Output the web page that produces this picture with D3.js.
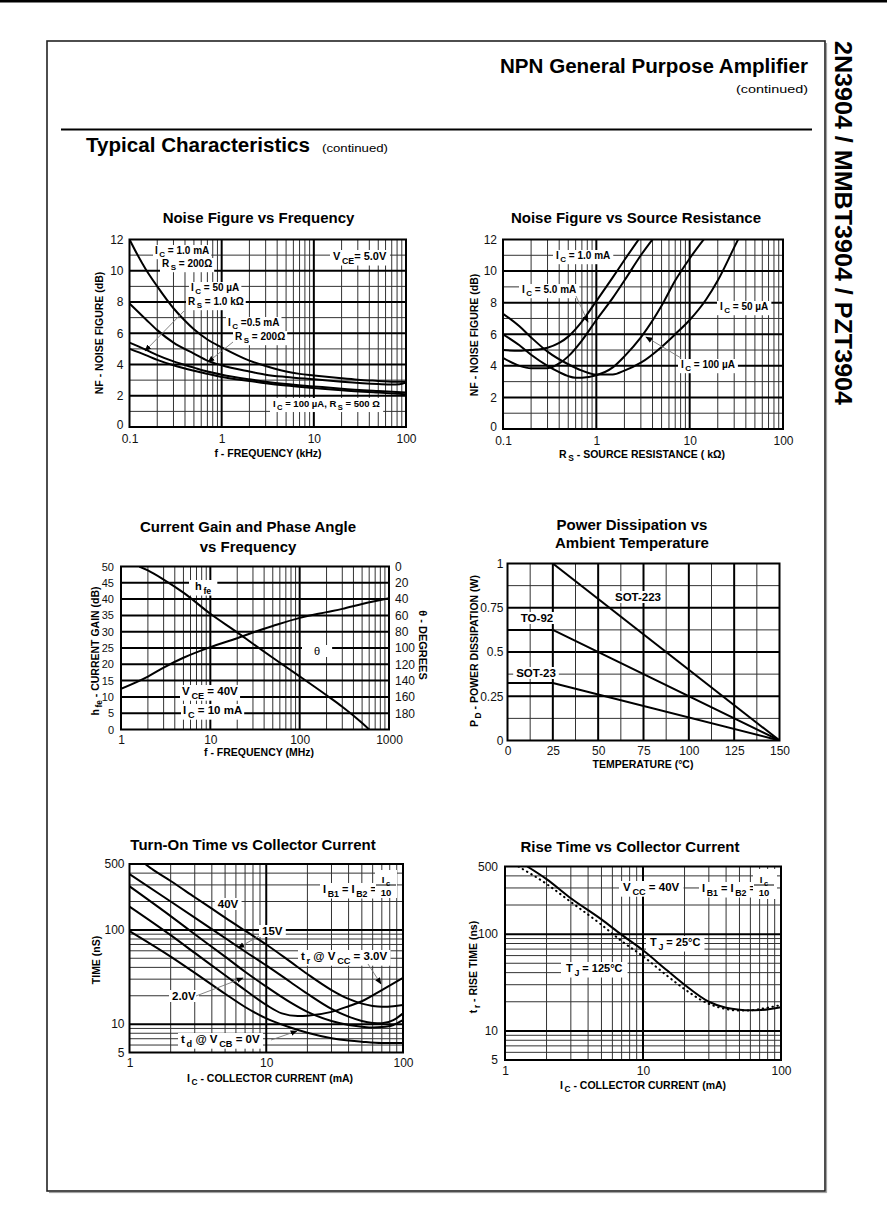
<!DOCTYPE html>
<html><head><meta charset="utf-8">
<script src="https://cdn.jsdelivr.net/npm/d3@7/dist/d3.min.js"></script>
<style>
html,body{margin:0;padding:0;background:#fff}
svg{display:block}
text{font-family:"Liberation Sans",Arial,Helvetica,sans-serif;fill:#000}
</style></head><body><script>
// ================= DATA =================
// Chart 1: Noise Figure vs Frequency (f kHz, NF dB)
const nfFreq_IC1mA_RS200 = [[0.1,12],[0.12,11.1],[0.15,10.1],[0.2,9.0],[0.3,7.6],[0.4,6.8],[0.5,6.25],[0.7,5.6],[1,5.1],[2,4.25],[3,3.9],[5,3.55],[7,3.4],[10,3.3],[20,3.12],[30,3.03],[50,2.95],[70,2.9],[100,2.9]];
const nfFreq_IC05mA_RS200 = [[0.1,7.9],[0.15,6.9],[0.2,6.2],[0.3,5.4],[0.5,4.7],[0.7,4.25],[1,3.95],[2,3.55],[3,3.35],[5,3.2],[10,3.05],[20,2.9],[50,2.75],[70,2.72],[85,2.74],[100,2.85]];
const nfFreq_IC50uA_RS1k = [[0.1,5.4],[0.15,4.95],[0.2,4.6],[0.3,4.2],[0.5,3.8],[0.7,3.55],[1,3.35],[2,3.05],[3,2.9],[5,2.75],[10,2.6],[20,2.45],[50,2.3],[100,2.2]];
const nfFreq_IC100uA_RS500 = [[0.1,5.0],[0.15,4.6],[0.2,4.3],[0.3,3.95],[0.5,3.6],[0.7,3.4],[1,3.2],[2,2.95],[3,2.8],[5,2.65],[10,2.5],[20,2.35],[50,2.2],[100,2.1]];
const nfFreqTicksX = [0.1,1,10,100];
const nfTicksY = [0,2,4,6,8,10,12];

// Chart 2: Noise Figure vs Source Resistance (Rs kOhm, NF dB)
const nfRs_IC1mA = [[0.1,5.0],[0.15,4.95],[0.2,5.0],[0.3,5.15],[0.4,5.45],[0.5,5.85],[0.7,6.8],[1,8.1],[1.5,9.6],[2,10.7],[3,12.2]];
const nfRs_IC5mA = [[0.1,4.5],[0.15,4.0],[0.2,3.85],[0.3,3.85],[0.4,4.15],[0.5,4.6],[0.7,5.6],[1,6.9],[1.5,8.3],[2,9.4],[3,11],[4.5,12.4]];
const nfRs_IC50uA = [[0.1,7.3],[0.15,6.5],[0.2,5.8],[0.3,4.9],[0.5,4.1],[0.7,3.7],[1,3.45],[1.5,3.45],[2,3.7],[3,4.2],[5,5.2],[7,6.0],[10,6.9],[15,8.2],[20,9.4],[30,11.5],[35,12.3]];
const nfRs_IC100uA = [[0.1,6.0],[0.15,5.3],[0.2,4.7],[0.3,4.0],[0.4,3.6],[0.5,3.35],[0.6,3.25],[0.7,3.25],[1,3.4],[1.5,3.9],[2,4.6],[3,5.8],[5,7.8],[7,9.4],[10,10.8],[15,12.2]];
const nfRsTicksX = [0.1,1,10,100];

// Chart 3: Current Gain and Phase Angle vs Frequency (f MHz)
const cgFreq_hfe_dB = [[1.6,50],[2,48.8],[3,46],[5,42],[10,35.5],[20,29.8],[30,26.3],[50,22],[100,16.3],[200,10.5],[300,7],[500,2],[600,0]];
const cgFreq_theta_deg = [[1,150],[2,135],[3,124],[5,112],[10,99],[20,88],[30,81],[50,73],[100,63],[200,56],[300,52],[500,46],[1000,39]];
const cgTicksX = [1,10,100,1000];
const cgTicksY = [0,5,10,15,20,25,30,35,40,45,50];
const cgTicksTheta = [0,20,40,60,80,100,120,140,160,180];

// Chart 4: Power Dissipation vs Ambient Temperature (degC, W)
const pd_SOT223 = [[25,1.0],[150,0]];
const pd_TO92 = [[0,0.625],[25,0.625],[150,0]];
const pd_SOT23 = [[0,0.325],[25,0.325],[150,0]];
const pdTicksX = [0,25,50,75,100,125,150];
const pdTicksY = [0,0.25,0.5,0.75,1];

// Chart 5: Turn-On Time vs Collector Current (mA, ns)
const ton_tr_40V = [[1.3,500],[1.5,430],[2,330],[3,222],[4,168],[5,135],[7,98],[10,70],[15,46],[20,34],[30,23],[40,18.5],[50,16.5],[60,15.6],[70,15.3],[85,15.5],[100,16]];
const ton_tr_15V = [[1,390],[2,200],[3,135],[5,82],[7,59],[10,42],[15,28],[20,21],[30,14.5],[40,12],[50,10.8],[60,10.3],[70,10.2],[85,11],[100,13]];
const ton_td_2V = [[1,290],[2,140],[3,90],[5,52],[7,36],[10,25],[15,17],[20,13.5],[30,10.8],[40,9.8],[50,9.4],[60,9.2],[70,9.3],[85,9.8],[100,11]];
const ton_tr_3V = [[1,177],[2,88],[3,57],[5,33],[7,23],[10,16],[13,13],[17,12.2],[20,12.3],[30,13.5],[40,15.5],[50,17.5],[70,23],[100,31]];
const ton_td_0V = [[1,97],[2,52],[3,35],[5,21],[7,15.2],[10,11.5],[15,9.2],[20,8.1],[30,7.1],[40,6.7],[50,6.5],[70,6.3],[100,6.3]];
const icTicksX = [1,10,100];
const timeTicksY = [5,10,100,500];

// Chart 6: Rise Time vs Collector Current (mA, ns)
const rise_TJ25 = [[1.45,500],[2,370],[3,235],[5,142],[6.9,100],[10,68],[15,42],[20,30],[30,20],[40,17.3],[50,16.5],[60,16.3],[70,16.4],[100,17.6]];
const rise_TJ125 = [[1.25,500],[2,330],[3,215],[5,125],[6.9,86],[10,59],[15,37],[20,27],[30,19],[40,16.8],[50,16.2],[60,16.3],[70,16.8],[100,18.5]];

// ================= HELPERS =================
const svg = d3.select("body").append("svg").attr("width",887).attr("height",1209);
const defs = svg.append("defs");
defs.append("marker").attr("id","ah").attr("viewBox","0 0 10 10").attr("refX",9).attr("refY",5)
  .attr("markerWidth",7).attr("markerHeight",7).attr("markerUnits","userSpaceOnUse").attr("orient","auto")
  .append("path").attr("d","M0,1L10,5L0,9Z").attr("fill","#000");

function rich(parent, x, y, str, o={}){
  const size=o.size||10;
  const t=parent.append("text").attr("x",x).attr("y",y).attr("font-size",size)
    .attr("font-weight",o.weight||"bold").attr("text-anchor",o.anchor||"start");
  const re=/_\{([^}]*)\}/g; let last=0,m; const parts=[];
  while((m=re.exec(str))){ if(m.index>last) parts.push([str.slice(last,m.index),0]); parts.push([m[1],1]); last=re.lastIndex; }
  if(last<str.length) parts.push([str.slice(last),0]);
  const sh=size*0.32; let down=false;
  for(const [s,sub] of parts){
    const ts=t.append("tspan").text(s);
    if(sub){ ts.attr("font-size",size*0.8).attr("dy",down?0:sh).attr("dx",size*0.15); down=true; }
    else if(down){ ts.attr("dy",-sh); down=false; }
  }
  if(o.len) t.attr("textLength",o.len).attr("lengthAdjust","spacingAndGlyphs");
  if(o.bg){ const b=t.node().getBBox(); const p=o.pad==null?2:o.pad;
    parent.insert("rect",()=>t.node()).attr("x",b.x-p).attr("y",b.y).attr("width",b.width+2*p).attr("height",b.height).attr("fill","#fff"); }
  return t;
}
function arrow(parent,x1,y1,x2,y2){
  parent.append("line").attr("x1",x1).attr("y1",y1).attr("x2",x2).attr("y2",y2)
    .attr("stroke","#777").attr("stroke-width",0.9).attr("marker-end","url(#ah)");
}
function logVals(a,b,mults){
  const out=[];
  for(let e=Math.floor(Math.log10(a))-1;e<=Math.ceil(Math.log10(b));e++)
    for(const mm of mults){ const v=+(mm*Math.pow(10,e)).toPrecision(6); if(v>a*1.0001&&v<b*0.9999) out.push(v); }
  return out;
}
function frac(parent,cx,yb,num,den,size){
  rich(parent,cx,yb-5,num,{size,anchor:"middle"});
  parent.append("line").attr("x1",cx-10).attr("x2",cx+10).attr("y1",yb-3).attr("y2",yb-3).attr("stroke","#000").attr("stroke-width",1);
  rich(parent,cx,yb+8,den,{size,anchor:"middle"});
}
let clipN=0;
function makeChart(c){
  const g=svg.append("g");
  const x=c.x, y=c.y;
  const [xl,xr]=x.range(); const [yb,yt]=y.range();
  const id="clip"+(++clipN);
  defs.append("clipPath").attr("id",id).append("rect").attr("x",xl).attr("y",yt).attr("width",xr-xl).attr("height",yb-yt);
  const grid=g.append("g");
  const vline=(vals,w,col)=>grid.append("g").selectAll("line").data(vals).join("line")
    .attr("x1",d=>x(d)).attr("x2",d=>x(d)).attr("y1",yt).attr("y2",yb).attr("stroke",col).attr("stroke-width",w);
  const hline=(vals,w,col)=>grid.append("g").selectAll("line").data(vals).join("line")
    .attr("y1",d=>y(d)).attr("y2",d=>y(d)).attr("x1",xl).attr("x2",xr).attr("stroke",col).attr("stroke-width",w);
  vline(c.vThin||[],1,"#333"); hline(c.hThin||[],1,"#333");
  vline(c.vThick||[],2,"#000"); hline(c.hThick||[],2,"#000");
  const ann=g.append("g");
  const curves=g.append("g").attr("clip-path",`url(#${id})`);
  g.append("rect").attr("x",xl).attr("y",yt).attr("width",xr-xl).attr("height",yb-yt)
    .attr("fill","none").attr("stroke","#000").attr("stroke-width",2);
  const top=g.append("g");
  return {g,x,y,xl,xr,yt,yb,ann,curves,top};
}
function drawCurve(ch,data,yScale,dash,linear){
  const ys=yScale||ch.y;
  const p=ch.curves.append("path").datum(data)
    .attr("d",d3.line().x(d=>ch.x(d[0])).y(d=>ys(d[1])).curve(linear?d3.curveLinear:d3.curveMonotoneX))
    .attr("fill","none").attr("stroke","#000").attr("stroke-width",2).attr("stroke-linejoin","round");
  if(dash) p.attr("stroke-dasharray",dash).attr("stroke-linecap","round");
  return p;
}
function axisL(ch,vals,fmt,o={}){
  const ag=ch.g.append("g").attr("transform",`translate(${ch.xl},0)`)
    .call(d3.axisLeft(o.scale||ch.y).tickValues(vals).tickFormat(fmt).tickSize(0).tickPadding(o.pad||5));
  ag.select(".domain").remove(); ag.attr("font-size",o.size||12).attr("font-family",null);
  ag.selectAll("text").style("fill","#111");
  return ag;
}
function axisR(ch,scale,vals,fmt,o={}){
  const ag=ch.g.append("g").attr("transform",`translate(${ch.xr},0)`)
    .call(d3.axisRight(scale).tickValues(vals).tickFormat(fmt).tickSize(0).tickPadding(o.pad||6));
  ag.select(".domain").remove(); ag.attr("font-size",o.size||12).attr("font-family",null);
  ag.selectAll("text").style("fill","#111");
}
function axisB(ch,vals,fmt,o={}){
  const ag=ch.g.append("g").attr("transform",`translate(0,${ch.yb})`)
    .call(d3.axisBottom(ch.x).tickValues(vals).tickFormat(fmt).tickSize(0).tickPadding(o.pad||5));
  ag.select(".domain").remove(); ag.attr("font-size",o.size||12).attr("font-family",null);
  ag.selectAll("text").style("fill","#111");
}
function vTitle(x,y,str,rot,size){
  const gg=svg.append("g").attr("transform",`translate(${x},${y}) rotate(${rot})`);
  rich(gg,0,0,str,{size:size||10.5,anchor:"middle"});
}
const numFmt=d=>String(d);

// ================= PAGE =================
svg.append("rect").attr("x",0).attr("y",0).attr("width",887).attr("height",2.5).attr("fill","#000");
svg.append("rect").attr("x",47).attr("y",41).attr("width",778).attr("height",1150).attr("fill","none").attr("stroke","#222").attr("stroke-width",1.6);
svg.append("path").attr("d","M49,1192.6H826.6V43").attr("fill","none").attr("stroke","#999").attr("stroke-width",1);
svg.append("line").attr("x1",61).attr("x2",812).attr("y1",129.5).attr("y2",129.5).attr("stroke","#000").attr("stroke-width",2);
svg.append("text").attr("x",808).attr("y",73).attr("text-anchor","end").attr("font-size",20).attr("font-weight","bold")
  .attr("textLength",308).attr("lengthAdjust","spacingAndGlyphs").style("font-family","'Liberation Sans Narrow','Liberation Sans',Arial").text("NPN General Purpose Amplifier");
svg.append("text").attr("x",808).attr("y",93).attr("text-anchor","end").attr("font-size",11.5)
  .attr("textLength",72).attr("lengthAdjust","spacingAndGlyphs").style("font-family","'Liberation Sans Narrow','Liberation Sans',Arial").text("(continued)");
svg.append("text").attr("x",86).attr("y",152).attr("font-size",20).attr("font-weight","bold")
  .attr("textLength",224).attr("lengthAdjust","spacingAndGlyphs").style("font-family","'Liberation Sans Narrow','Liberation Sans',Arial").text("Typical Characteristics");
svg.append("text").attr("x",322).attr("y",152).attr("font-size",11.5)
  .attr("textLength",66).attr("lengthAdjust","spacingAndGlyphs").style("font-family","'Liberation Sans Narrow','Liberation Sans',Arial").text("(continued)");
svg.append("g").attr("transform","translate(835,41) rotate(90)").append("text").attr("x",0).attr("y",0)
  .attr("font-size",24).attr("font-weight","bold").attr("textLength",364).attr("lengthAdjust","spacingAndGlyphs")
  .text("2N3904 / MMBT3904 / PZT3904");

// ================= CHART 1 =================
{
  const x=d3.scaleLog().domain([0.1,100]).range([129.5,406]);
  const y=d3.scaleLinear().domain([0,12]).range([427,239.5]);
  const ch=makeChart({x,y,vThin:logVals(0.1,100,[2,3,4,5,6,7,8,9]),vThick:logVals(0.1,100,[1]),
    hThin:[1,3,5,7,9,11],hThick:[2,4,6,8,10]});
  [nfFreq_IC1mA_RS200,nfFreq_IC05mA_RS200,nfFreq_IC50uA_RS1k,nfFreq_IC100uA_RS500].forEach(d=>drawCurve(ch,d));
  const a=ch.ann, s=10;
  rich(a,155,254,"I_{C} = 1.0 mA",{size:s,bg:1});
  rich(a,162,267,"R_{S} = 200Ω",{size:s,bg:1});
  rich(a,333,260,"V_{CE}= 5.0V",{size:11,bg:1,pad:3});
  rich(a,191,291,"I_{C} = 50 µA",{size:s,bg:1});
  rich(a,188,305,"R_{S} = 1.0 kΩ",{size:s,bg:1});
  rich(a,228,326,"I_{C} =0.5 mA",{size:s,bg:1});
  rich(a,235,340,"R_{S} = 200Ω",{size:s,bg:1});
  rich(a,273,407,"I_{C} = 100 µA, R_{S}  = 500 Ω",{size:9.5,bg:1,pad:3});
  arrow(ch.top,184,311,145,351);
  arrow(ch.top,233,342,208,362);
  axisL(ch,nfTicksY,numFmt,{pad:6}).selectAll("text").attr("dy",d=>d===0?"0.1em":"0.32em");
  axisB(ch,nfFreqTicksX,numFmt,{pad:7});
  rich(svg,258.5,223,"Noise Figure vs Frequency",{size:15,anchor:"middle"});
  rich(svg,268,457,"f  - FREQUENCY (kHz)",{size:10.5,anchor:"middle"});
  vTitle(103,333,"NF - NOISE FIGURE (dB)",-90);
}
// ================= CHART 2 =================
{
  const x=d3.scaleLog().domain([0.1,100]).range([503,783]);
  const y=d3.scaleLinear().domain([0,12]).range([429,239.5]);
  const ch=makeChart({x,y,vThin:logVals(0.1,100,[2,3,4,5,6,7,8,9]),vThick:logVals(0.1,100,[1]),
    hThin:[1,3,5,7,9,11],hThick:[2,4,6,8,10]});
  [nfRs_IC1mA,nfRs_IC5mA,nfRs_IC50uA,nfRs_IC100uA].forEach(d=>drawCurve(ch,d));
  const a=ch.ann, s=10;
  rich(a,556,259,"I_{C} = 1.0 mA",{size:s,bg:1,pad:3});
  rich(a,522,293,"I_{C} = 5.0 mA",{size:s,bg:1,pad:3});
  rich(a,720,310,"I_{C} = 50 µA",{size:s,bg:1,pad:3});
  rich(a,681,368,"I_{C} = 100 µA",{size:s,bg:1,pad:3});
  arrow(ch.top,576,296,588,322);
  arrow(ch.top,681,358,646,337);
  axisL(ch,nfTicksY,numFmt,{pad:6}).selectAll("text").attr("dy",d=>d===0?"0.1em":"0.32em");
  axisB(ch,nfRsTicksX,numFmt,{pad:7});
  rich(svg,636,223,"Noise Figure vs Source Resistance",{size:15,anchor:"middle"});
  rich(svg,642,458,"R_{S}  - SOURCE RESISTANCE ( kΩ)",{size:10.5,anchor:"middle"});
  vTitle(478,335,"NF - NOISE FIGURE (dB)",-90);
}
// ================= CHART 3 =================
{
  const x=d3.scaleLog().domain([1,1000]).range([121,389]);
  const y=d3.scaleLinear().domain([0,50]).range([729.5,566.5]);
  const yT=d3.scaleLinear().domain([0,200]).range([566.5,729.5]);
  const ch=makeChart({x,y,vThin:logVals(1,1000,[2,3,4,5,6,7,8,9]),vThick:logVals(1,1000,[1]),
    hThin:[],hThick:[5,10,15,20,25,30,35,40,45]});
  drawCurve(ch,cgFreq_hfe_dB);
  drawCurve(ch,cgFreq_theta_deg,yT);
  const a=ch.ann;
  rich(a,195,590,"h_{fe}",{size:11,bg:1,pad:6});
  rich(a,314,655,"θ",{size:11,weight:"normal",bg:1,pad:12});
  rich(a,182,695,"V_{CE} = 40V",{size:11.5,bg:1,pad:2});
  rich(a,183,714,"I_{C} = 10 mA",{size:11.5,bg:1,pad:2});
  axisL(ch,cgTicksY,numFmt,{size:11,pad:7});
  axisR(ch,yT,cgTicksTheta,numFmt,{size:12,pad:6});
  axisB(ch,cgTicksX,numFmt,{pad:6});
  rich(svg,248,532,"Current Gain and Phase Angle",{size:15,anchor:"middle"});
  rich(svg,248,552,"vs Frequency",{size:15,anchor:"middle"});
  rich(svg,259,756,"f - FREQUENCY (MHz)",{size:10.5,anchor:"middle"});
  vTitle(99,651,"h_{fe} - CURRENT GAIN (dB)",-90);
  vTitle(419,645,"θ - DEGREES",90,11);
}
// ================= CHART 4 =================
{
  const x=d3.scaleLinear().domain([0,150]).range([507.5,779.5]);
  const y=d3.scaleLinear().domain([0,1]).range([740.5,563.5]);
  const ch=makeChart({x,y,vThin:[12.5,37.5,62.5,87.5,112.5,137.5],vThick:[25,50,75,100,125],
    hThin:[0.125,0.375,0.625,0.875],hThick:[0.25,0.5,0.75]});
  [pd_SOT223,pd_TO92,pd_SOT23].forEach(d=>drawCurve(ch,d,null,null,true));
  const a=ch.ann;
  rich(a,638,601,"SOT-223",{size:11.5,anchor:"middle",bg:1,pad:3});
  rich(a,537,622,"TO-92",{size:11.5,anchor:"middle",bg:1,pad:4});
  rich(a,536,677,"SOT-23",{size:11.5,anchor:"middle",bg:1,pad:3});
  axisL(ch,pdTicksY,numFmt,{pad:4});
  axisB(ch,pdTicksX,numFmt,{pad:6});
  rich(svg,632,530,"Power Dissipation vs",{size:15,anchor:"middle"});
  rich(svg,632,548,"Ambient Temperature",{size:15,anchor:"middle"});
  rich(svg,643,768,"TEMPERATURE  (°C)",{size:10.5,anchor:"middle"});
  vTitle(478,651,"P_{D} - POWER DISSIPATION (W)",-90);
}
// ================= CHART 5 =================
{
  const x=d3.scaleLog().domain([1,100]).range([129.5,403]);
  const y=d3.scaleLog().domain([5,500]).range([1052.5,864]);
  const ch=makeChart({x,y,vThin:logVals(1,100,[2,3,4,5,6,7,8,9]),vThick:logVals(1,100,[1]),
    hThin:logVals(5,500,[2,3,4,5,6,7,8,9]),hThick:logVals(5,500,[1])});
  [ton_tr_40V,ton_tr_15V,ton_td_2V,ton_tr_3V,ton_td_0V].forEach(d=>drawCurve(ch,d));
  const a=ch.ann;
  rich(a,228,908,"40V",{size:11.5,anchor:"middle",bg:1,pad:3});
  rich(a,262,935,"15V",{size:11.5,bg:1,pad:3});
  rich(a,301,960,"t_{r}  @ V_{CC} = 3.0V",{size:11.5,bg:1,pad:3});
  rich(a,172,1000,"2.0V",{size:11.5,bg:1,pad:3});
  rich(a,181,1043,"t_{d}  @ V_{CB} = 0V",{size:11.5,bg:1,pad:3});
  rich(a,323,893,"I_{B1} = I_{B2} =",{size:11,bg:1,pad:3});
  a.append("rect").attr("x",375).attr("y",870).attr("width",22).attr("height",28).attr("fill","#fff");
  frac(a,386,888,"I_{c}","10",9.5);
  arrow(ch.top,259,936,238,948);
  arrow(ch.top,368,964,381,984);
  arrow(ch.top,196,996,243,978);
  arrow(ch.top,271,1040,297,1031);
  axisL(ch,timeTicksY,numFmt);
  axisB(ch,icTicksX,numFmt,{pad:6});
  rich(svg,253,850,"Turn-On Time vs Collector Current",{size:15,anchor:"middle"});
  rich(svg,270,1082,"I_{C}  - COLLECTOR CURRENT (mA)",{size:10.5,anchor:"middle"});
  vTitle(100,960,"TIME  (nS)",-90);
}
// ================= CHART 6 =================
{
  const x=d3.scaleLog().domain([1,100]).range([505,781]);
  const y=d3.scaleLog().domain([5,500]).range([1060,866.5]);
  const ch=makeChart({x,y,vThin:logVals(1,100,[2,3,4,5,6,7,8,9]),vThick:logVals(1,100,[1]),
    hThin:logVals(5,500,[2,3,4,5,6,7,8,9]),hThick:logVals(5,500,[1])});
  drawCurve(ch,rise_TJ25);
  drawCurve(ch,rise_TJ125,null,"0.5,4.5");
  const a=ch.ann;
  rich(a,623,891,"V_{CC} = 40V",{size:11.5,bg:1,pad:4});
  rich(a,702,892,"I_{B1} = I_{B2} =",{size:11,bg:1,pad:3});
  a.append("rect").attr("x",753).attr("y",869).attr("width",24).attr("height",30).attr("fill","#fff");
  frac(a,764,888,"I_{c}","10",9.5);
  rich(a,650,946,"T_{J} = 25°C",{size:11,bg:1,pad:4});
  rich(a,566,972,"T_{J} = 125°C",{size:11,bg:1,pad:5});
  axisL(ch,timeTicksY,numFmt,{pad:7});
  axisB(ch,icTicksX,numFmt,{pad:6});
  rich(svg,630,852,"Rise Time vs Collector Current",{size:15,anchor:"middle"});
  rich(svg,643,1089,"I_{C}  - COLLECTOR CURRENT (mA)",{size:10.5,anchor:"middle"});
  vTitle(477,967,"t_{r} - RISE TIME  (ns)",-90);
}
</script></body></html>
